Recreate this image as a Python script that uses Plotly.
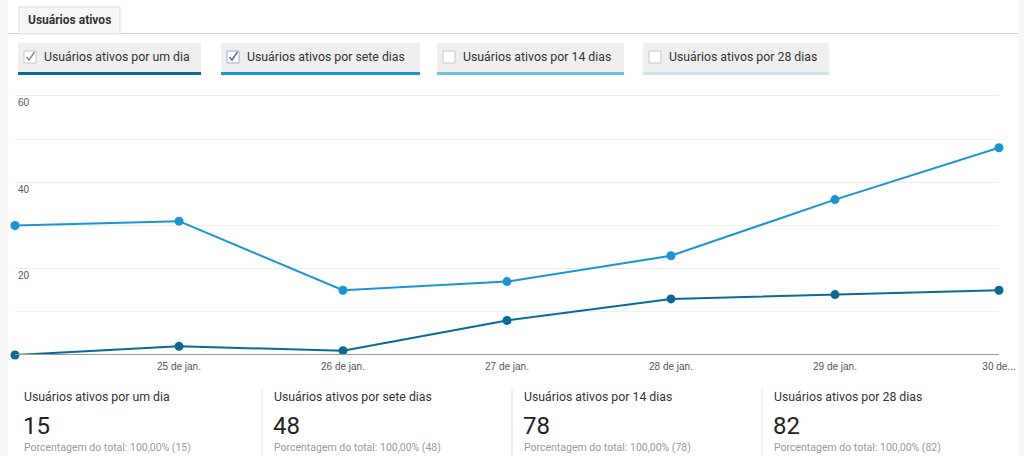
import plotly.graph_objects as go

W, H = 1024, 456

# ---------------- data ----------------
dates = ["24 de jan.", "25 de jan.", "26 de jan.", "27 de jan.", "28 de jan.", "29 de jan.", "30 de jan."]
tick_labels = ["...", "25 de jan.", "26 de jan.", "27 de jan.", "28 de jan.", "29 de jan.", "30 de..."]
users_1_day = [0, 2, 1, 8, 13, 14, 15]
users_7_days = [30, 31, 15, 17, 23, 36, 48]
y_ticks = [20, 40, 60]

series_names = ["Usuários ativos por um dia", "Usuários ativos por sete dias",
                "Usuários ativos por 14 dias", "Usuários ativos por 28 dias"]
series_checked = [True, True, False, False]
series_colors = ["#0b6a95", "#1a95d3", "#6ec0e8", "#c8e5f5"]
totals = [15, 48, 78, 82]
tab_label = "Usuários ativos"
pct_label = "Porcentagem do total: 100,00%"

# ---------------- helpers ----------------
def px(x):
    return x / W

def py(y):
    return 1 - y / H

FONT = "Roboto, Arial, sans-serif"
AXFONT = "Liberation Sans, Arial, sans-serif"

fig = go.Figure()

fig.add_trace(go.Scatter(
    x=dates, y=users_7_days, mode="lines+markers", name=series_names[1],
    line=dict(color=series_colors[1], width=2),
    marker=dict(color=series_colors[1], size=9), cliponaxis=False,
    hoverinfo="skip"))
fig.add_trace(go.Scatter(
    x=dates, y=users_1_day, mode="lines+markers", name=series_names[0],
    line=dict(color=series_colors[0], width=2),
    marker=dict(color=series_colors[0], size=9), cliponaxis=False,
    hoverinfo="skip"))

shapes = []
annotations = []

# side strips
shapes.append(dict(type="rect", xref="paper", yref="paper", x0=0, x1=px(8), y0=0, y1=1,
                   fillcolor="#f6f7f7", line_width=0, layer="below"))
shapes.append(dict(type="rect", xref="paper", yref="paper", x0=px(1018), x1=1, y0=0, y1=1,
                   fillcolor="#f6f7f7", line_width=0, layer="below"))

# tab
shapes.append(dict(type="rect", xref="paper", yref="paper", x0=px(19), x1=px(120), y0=py(34), y1=py(7),
                   fillcolor="#f7f7f7", line=dict(color="#dddddd", width=1), layer="below"))
shapes.append(dict(type="line", xref="paper", yref="paper", x0=px(8), x1=px(19), y0=py(33.5), y1=py(33.5),
                   line=dict(color="#d0d0d0", width=1)))
shapes.append(dict(type="line", xref="paper", yref="paper", x0=px(120), x1=px(1018), y0=py(33.5), y1=py(33.5),
                   line=dict(color="#d0d0d0", width=1)))
annotations.append(dict(text="<b>" + tab_label + "</b>", x=px(26), y=py(20.5), xref="paper", yref="paper",
                        xanchor="left", yanchor="middle", showarrow=False,
                        font=dict(family=FONT, size=12, color="#333333")))

# series buttons
btn_x = [(18, 201), (221, 420), (437, 624), (643, 829)]
for i, (x0, x1) in enumerate(btn_x):
    shapes.append(dict(type="rect", xref="paper", yref="paper", x0=px(x0), x1=px(x1), y0=py(75), y1=py(43),
                       fillcolor="#efefef", line_width=0, layer="below"))
    shapes.append(dict(type="rect", xref="paper", yref="paper", x0=px(x0), x1=px(x1), y0=py(75), y1=py(72),
                       fillcolor=series_colors[i], line_width=0))
    cx0 = x0 + 6
    border = "#8fb3dc" if i == 1 else "#c8c8c8"
    shapes.append(dict(type="rect", xref="paper", yref="paper", x0=px(cx0), x1=px(cx0 + 12), y0=py(63), y1=py(51),
                       fillcolor="#ffffff", line=dict(color=border, width=1)))
    if series_checked[i]:
        chk = "#666666" if i == 1 else "#888888"
        path = "M {} {} L {} {} L {} {}".format(px(cx0 + 2.5), py(57), px(cx0 + 5), py(60), px(cx0 + 10.5), py(52))
        shapes.append(dict(type="path", xref="paper", yref="paper", path=path,
                           line=dict(color=chk, width=1.4)))
    annotations.append(dict(text=series_names[i], x=px(cx0 + 18), y=py(57), xref="paper", yref="paper",
                            xanchor="left", yanchor="middle", showarrow=False,
                            font=dict(family=FONT, size=12.3, color="#333333")))

# baseline
shapes.append(dict(type="line", xref="paper", yref="y", x0=px(15), x1=px(999), y0=0, y1=0,
                   line=dict(color="#9a9a9a", width=2)))

# stats
col_x = [22, 272, 522, 772]
for i in range(4):
    if i > 0:
        shapes.append(dict(type="line", xref="paper", yref="paper", x0=px(col_x[i] - 10), x1=px(col_x[i] - 10),
                           y0=py(456), y1=py(389), line=dict(color="#e2e2e2", width=1)))
    annotations.append(dict(text=series_names[i], x=px(col_x[i]), y=py(397), xref="paper", yref="paper",
                            xanchor="left", yanchor="middle", showarrow=False,
                            font=dict(family=FONT, size=12.3, color="#333333")))
    annotations.append(dict(text=str(totals[i]), x=px(col_x[i] - 1), y=py(426), xref="paper", yref="paper",
                            xanchor="left", yanchor="middle", showarrow=False,
                            font=dict(family=FONT, size=24, color="#222222")))
    annotations.append(dict(text="{} ({})".format(pct_label, totals[i]), x=px(col_x[i]), y=py(447),
                            xref="paper", yref="paper", xanchor="left", yanchor="middle", showarrow=False,
                            font=dict(family=FONT, size=10.5, color="#9a9a9a")))

# y axis: 0 at y=355px, 60 at y=96px; extend range so the top label is not hidden
unit = (355 - 96) / 60.0
y_top = 62.0
fig.update_layout(
    width=W, height=H,
    margin=dict(l=0, r=0, t=0, b=0, pad=0),
    paper_bgcolor="#ffffff", plot_bgcolor="#ffffff",
    showlegend=False,
    shapes=shapes, annotations=annotations,
    hovermode=False,
    xaxis=dict(domain=[px(15), px(999)], type="category", range=[0, len(dates) - 1],
               tickvals=dates, ticktext=tick_labels, showgrid=False, zeroline=False,
               showline=False, ticks="", fixedrange=True, ticklabelstandoff=4,
               automargin=False,
               tickfont=dict(family=AXFONT, size=10, color="#555555")),
    yaxis=dict(domain=[py(355), py(355 - y_top * unit)], range=[0, y_top], tickvals=y_ticks,
               ticklabelposition="inside", ticklabelshift=7, ticklabelstandoff=0,
               showgrid=True, gridcolor="#ececec", gridwidth=1,
               minor=dict(dtick=10, showgrid=True, gridcolor="#f0f0f0"),
               zeroline=False, showline=False, ticks="", fixedrange=True,
               automargin=False,
               tickfont=dict(family=AXFONT, size=10, color="#555555")),
)

post = ("document.documentElement.style.overflow='hidden';"
        "document.body.style.overflow='hidden';document.body.style.margin='0';")
fig.write_html("out.html", config={"displayModeBar": False, "responsive": False},
               post_script=post)
